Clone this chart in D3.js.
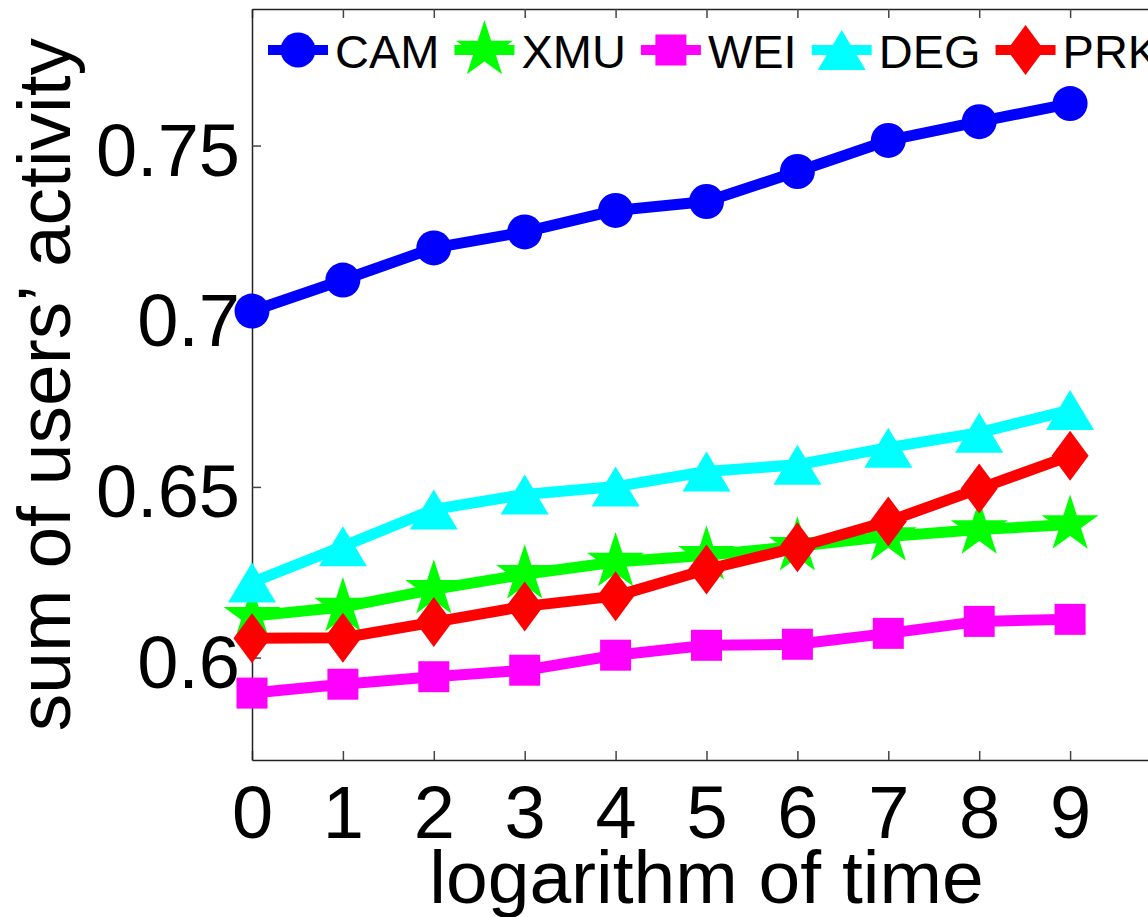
<!DOCTYPE html>
<html>
<head>
<meta charset="utf-8">
<script src="https://cdn.jsdelivr.net/npm/d3@7"></script>
<style>
  html, body { margin: 0; padding: 0; background: #fff; }
  svg { display: block; font-family: "Liberation Sans", Arial, Helvetica, sans-serif; }
</style>
</head>
<body>
<svg id="chart"></svg>
<script>
const width = 1148;
const height = 917;

// data
const xValues = [0, 1, 2, 3, 4, 5, 6, 7, 8, 9];
const xTicks = [0, 1, 2, 3, 4, 5, 6, 7, 8, 9];
const yTicks = [0.6, 0.65, 0.7, 0.75];
const seriesNames = ["CAM", "XMU", "WEI", "DEG", "PRK"];
const cam = [0.7015, 0.7106, 0.7200, 0.7247, 0.7310, 0.7336, 0.7424, 0.7515, 0.7570, 0.7623];
const xmu = [0.6121, 0.6148, 0.6200, 0.6244, 0.6280, 0.6300, 0.6326, 0.6355, 0.6375, 0.6390];
const wei = [0.5896, 0.5922, 0.5944, 0.5963, 0.6007, 0.6036, 0.6039, 0.6071, 0.6106, 0.6112];
const deg = [0.6220, 0.6326, 0.6434, 0.6478, 0.6501, 0.6545, 0.6565, 0.6615, 0.6659, 0.6725];
const prk = [0.6057, 0.6058, 0.6104, 0.6150, 0.6180, 0.6258, 0.6323, 0.6399, 0.6495, 0.6591];

const margin = { left: 252, top: 9, right: 1161, bottom: 760 };

const x = d3.scaleLinear().domain([0, 10]).range([margin.left, margin.right]);
const y = d3.scaleLinear().domain([0.57, 0.79]).range([margin.bottom, margin.top]);

// marker shapes (MATLAB-like)
const diamond = {
  draw(ctx, size) {
    const h = Math.sqrt(size) / 2, w = h * 0.74;
    ctx.moveTo(0, -h); ctx.lineTo(w, 0); ctx.lineTo(0, h); ctx.lineTo(-w, 0); ctx.closePath();
  }
};
const triangle = {
  draw(ctx, size) {
    const h = Math.sqrt(size) / 2, w = h * 1.2;
    ctx.moveTo(0, -h); ctx.lineTo(w, h); ctx.lineTo(-w, h); ctx.closePath();
  }
};

const series = [
  { name: seriesNames[0], values: cam, color: "#0000ff", type: d3.symbolCircle, size: 962 },
  { name: seriesNames[1], values: xmu, color: "#00ff00", type: d3.symbolStar, size: 1010 },
  { name: seriesNames[2], values: wei, color: "#ff00ff", type: d3.symbolSquare, size: 961 },
  { name: seriesNames[3], values: deg, color: "#00ffff", type: triangle, size: 1600 },
  { name: seriesNames[4], values: prk, color: "#ff0000", type: diamond, size: 2500 }
];

const svg = d3.select("#chart").attr("width", width).attr("height", height);

// axes (box with inward ticks)
const axisStyle = (g) => {
  g.selectAll(".domain").attr("stroke", "#222").attr("stroke-width", 1.5);
  g.selectAll(".tick line").attr("stroke", "#444").attr("stroke-width", 1.5);
  g.selectAll(".tick text").attr("fill", "#000");
};

svg.append("g")
  .attr("transform", `translate(0,${margin.bottom})`)
  .call(d3.axisBottom(x).tickValues(xTicks).tickFormat(d3.format("d"))
    .tickSizeInner(-9).tickSizeOuter(0).tickPadding(25))
  .call(axisStyle)
  .call((g) => g.selectAll(".tick text").attr("font-size", 74).attr("font-family", null));

svg.append("g")
  .attr("transform", `translate(0,${margin.top})`)
  .call(d3.axisTop(x).tickValues(xTicks).tickFormat("")
    .tickSizeInner(-9).tickSizeOuter(0))
  .call(axisStyle);

svg.append("g")
  .attr("transform", `translate(${margin.left},0)`)
  .call(d3.axisLeft(y).tickValues(yTicks).tickFormat(String)
    .tickSizeInner(-9).tickSizeOuter(0).tickPadding(12))
  .call(axisStyle)
  .call((g) => g.selectAll(".tick text").attr("font-size", 74).attr("font-family", null).attr("dy", "0.4em"));

// lines + markers
const line = d3.line()
  .x((d, i) => x(xValues[i]))
  .y((d) => y(d));

series.forEach((s) => {
  const g = svg.append("g");
  g.append("path")
    .datum(s.values)
    .attr("d", line)
    .attr("fill", "none")
    .attr("stroke", s.color)
    .attr("stroke-width", 11)
    .attr("stroke-linejoin", "round");

  g.selectAll("path.marker")
    .data(s.values)
    .enter()
    .append("path")
    .attr("class", "marker")
    .attr("transform", (d, i) => `translate(${x(xValues[i])},${y(d)})`)
    .attr("d", d3.symbol().type(s.type).size(s.size))
    .attr("fill", s.color);
});

// legend across the top inside the axes
const legend = svg.append("g");
let lx = 268;
series.forEach((s) => {
  const item = legend.append("g").attr("transform", `translate(${lx},50)`);
  item.append("line")
    .attr("x1", 0).attr("x2", 60)
    .attr("stroke", s.color).attr("stroke-width", 10);
  item.append("path")
    .attr("transform", "translate(30,0)")
    .attr("d", d3.symbol().type(s.type).size(s.size))
    .attr("fill", s.color);
  const t = item.append("text")
    .attr("x", 67).attr("y", 18)
    .attr("font-size", 47)
    .text(s.name);
  lx += 67 + t.node().getComputedTextLength() + 15;
});

// axis labels
svg.append("text")
  .attr("x", (margin.left + margin.right) / 2)
  .attr("y", 903)
  .attr("text-anchor", "middle")
  .attr("font-size", 75)
  .text("logarithm of time");

svg.append("text")
  .attr("transform", `translate(70,${(margin.top + margin.bottom) / 2}) rotate(-90)`)
  .attr("text-anchor", "middle")
  .attr("font-size", 75)
  .text("sum of users\u2019 activity");
</script>
</body>
</html>
